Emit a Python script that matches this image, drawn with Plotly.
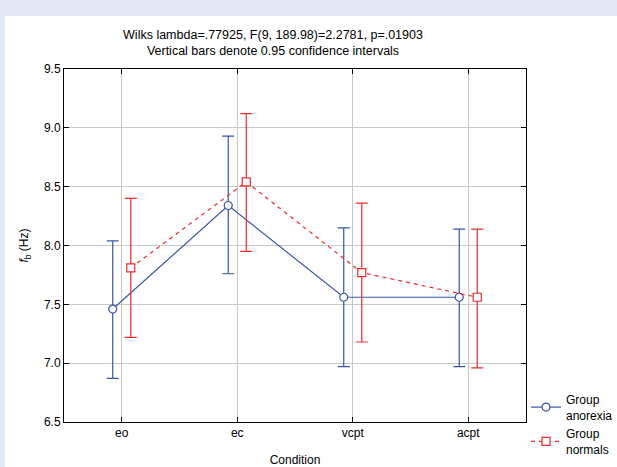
import plotly.graph_objects as go

# ---- data ----
conditions = ["eo", "ec", "vcpt", "acpt"]
anorexia_mean = [7.46, 8.34, 7.56, 7.56]
anorexia_upper = [8.04, 8.93, 8.15, 8.14]
anorexia_lower = [6.87, 7.76, 6.97, 6.97]
normals_mean = [7.81, 8.54, 7.77, 7.56]
normals_upper = [8.40, 9.12, 8.36, 8.14]
normals_lower = [7.22, 7.95, 7.18, 6.96]
y_ticks = [6.5, 7.0, 7.5, 8.0, 8.5, 9.0, 9.5]
y_tick_labels = ["6.5", "7.0", "7.5", "8.0", "8.5", "9.0", "9.5"]

# ---- style ----
BLUE = "#3A55A8"
RED = "#EE2B2B"
OFFSET = 0.078
FONT = "Liberation Sans, Arial, sans-serif"

idx = list(range(len(conditions)))

def errs(mean, upper, lower):
    return ([u - m for u, m in zip(upper, mean)], [m - l for m, l in zip(mean, lower)])

a_plus, a_minus = errs(anorexia_mean, anorexia_upper, anorexia_lower)
n_plus, n_minus = errs(normals_mean, normals_upper, normals_lower)

fig = go.Figure()
fig.add_trace(go.Scatter(
    x=[i - OFFSET for i in idx], y=anorexia_mean,
    mode="lines+markers", name="Group<br>anorexia",
    line=dict(color=BLUE, width=1.2),
    marker=dict(symbol="circle", size=8, color="white", line=dict(color=BLUE, width=1.2)),
    error_y=dict(type="data", array=a_plus, arrayminus=a_minus, symmetric=False,
                 color=BLUE, thickness=1.2, width=6),
))
fig.add_trace(go.Scatter(
    x=[i + OFFSET for i in idx], y=normals_mean,
    mode="lines+markers", name="Group<br>normals",
    line=dict(color=RED, width=1.2, dash="4px,4px"),
    marker=dict(symbol="square", size=8, color="white", line=dict(color=RED, width=1.2)),
    error_y=dict(type="data", array=n_plus, arrayminus=n_minus, symmetric=False,
                 color=RED, thickness=1.2, width=6),
))

L, R, T, B = 64, 91, 69, 45
W, H = 617, 467
pw = W - L - R
ph = H - T - B

fig.add_shape(type="rect", xref="paper", yref="paper",
              x0=(5 - L) / pw, x1=(W + 5 - L) / pw,
              y0=(H - B - (H + 5)) / ph, y1=(H - B - 16) / ph,
              fillcolor="white", line=dict(width=0), layer="below")

fig.update_layout(
    width=W, height=H,
    margin=dict(l=L, r=R, t=T, b=B, autoexpand=False),
    paper_bgcolor="#E1E7F5",
    plot_bgcolor="white",
    font=dict(family=FONT, size=12, color="black"),
    title=dict(
        text="Wilks lambda=.77925, F(9, 189.98)=2.2781, p=.01903<br>Vertical bars denote 0.95 confidence intervals",
        x=(273 - L) / pw, xref="paper", xanchor="center",
        y=1 - 39 / H, yref="container", yanchor="top",
        font=dict(family=FONT, size=12.5, color="black"),
    ),
    showlegend=True,
    legend=dict(
        x=(526 - L) / pw, xanchor="left",
        y=(H - B - 385) / ph, yanchor="top",
        bgcolor="rgba(0,0,0,0)",
        font=dict(family=FONT, size=12),
        itemwidth=30, tracegroupgap=0,
    ),
    xaxis=dict(
        range=[-0.5, 3.5], automargin=False,
        tickvals=idx, ticktext=conditions,
        showgrid=True, gridcolor="#C8C8C8", gridwidth=1,
        showline=True, linecolor="black", linewidth=1, mirror="ticks",
        ticks="inside", ticklen=5, tickcolor="black",
        zeroline=False,
        title=dict(text="Condition", font=dict(family=FONT, size=12), standoff=17),
        tickfont=dict(family=FONT, size=12),
    ),
    yaxis=dict(
        range=[6.5, 9.5], automargin=False,
        tickvals=y_ticks, ticktext=y_tick_labels,
        showgrid=True, gridcolor="#C8C8C8", gridwidth=1,
        showline=True, linecolor="black", linewidth=1, mirror="ticks",
        ticks="inside", ticklen=5, tickcolor="black",
        zeroline=False,
        title=dict(text="<i>f</i><sub>b</sub> (Hz)", font=dict(family=FONT, size=12), standoff=12),
        tickfont=dict(family=FONT, size=12),
    ),
)

fig.write_html("out.html")
